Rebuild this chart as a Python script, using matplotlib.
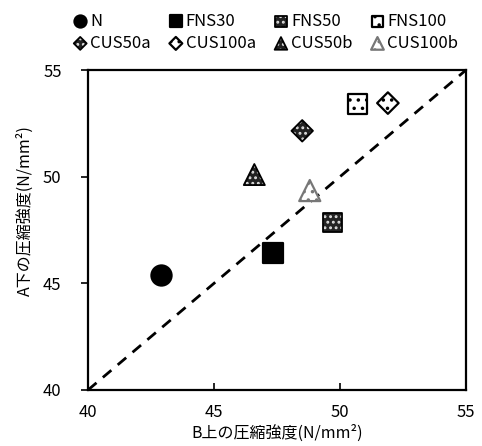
import numpy as np
import matplotlib
matplotlib.use("Agg")
import matplotlib.pyplot as plt

plt.rcParams['font.family'] = ['Noto Sans CJK JP', 'DejaVu Sans']
plt.rcParams['hatch.linewidth'] = 1.3

# data
names = ["N", "FNS30", "FNS50", "FNS100", "CUS50a", "CUS100a", "CUS50b", "CUS100b"]
b_strength = [42.9, 47.35, 49.7, 50.7, 48.5, 51.9, 46.6, 48.8]
a_strength = [45.4, 46.4, 47.85, 53.4, 52.15, 53.45, 50.1, 49.35]

# marker, face, edge (hatch colour), hatch, outline colour
styles = {
    "N":       ("o", "black", "black", None, None),
    "FNS30":   ("s", "black", "black", None, None),
    "FNS50":   ("s", "#222222", "#dddddd", "...", "black"),
    "FNS100":  ("s", "white", "black", "..", None),
    "CUS50a":  ("D", "#222222", "#dddddd", "...", "black"),
    "CUS100a": ("D", "white", "black", "..", None),
    "CUS50b":  ("^", "#222222", "#dddddd", "...", "black"),
    "CUS100b": ("^", "white", "#777777", "..", None),
}
sizes = {"o": 210, "s": 200, "D": 120, "^": 230}

fig = plt.figure(figsize=(4.82, 4.46), dpi=100)
ax = fig.add_axes([0.1826, 0.1256, 0.7842, 0.7174])

handles = {}
for name, x, y in zip(names, b_strength, a_strength):
    mk, fc, ec, hatch, outline = styles[name]
    s = sizes[mk]
    lw = 0 if outline else 1.6
    h = ax.scatter([x], [y], marker=mk, s=s, facecolor=fc, edgecolor=ec,
                   linewidth=lw, hatch=hatch, zorder=3)
    if outline:
        h2 = ax.scatter([x], [y], marker=mk, s=s, facecolor="none",
                        edgecolor=outline, linewidth=1.3, zorder=4)
        h = (h, h2)
    handles[name] = h

ax.plot([40, 55], [40, 55], color="black", linestyle=(0, (4, 3)), linewidth=2, zorder=2)

ax.set_xlim(40, 55)
ax.set_ylim(40, 55)
ax.set_xticks([40, 45, 50, 55])
ax.set_yticks([40, 45, 50, 55])
ax.tick_params(axis="x", direction="in", length=5, width=1.2, labelsize=12, pad=10)
ax.tick_params(axis="y", direction="out", length=5, width=1.2, labelsize=12, pad=14)
for sp in ax.spines.values():
    sp.set_linewidth(1.6)

ax.set_xlabel("B上の圧縮強度(N/mm²)", fontsize=11.5, va="center")
ax.xaxis.set_label_coords(0.5, -0.135)
ax.set_ylabel("A下の圧縮強度(N/mm²)", fontsize=11.5, va="center")
ax.yaxis.set_label_coords(-0.165, 0.56)

order = ["N", "CUS50a", "FNS30", "CUS100a", "FNS50", "CUS50b", "FNS100", "CUS100b"]
fig.legend([handles[n] for n in order], order, ncol=4, frameon=False,
           loc="upper left", bbox_to_anchor=(0.118, 1.005), fontsize=12,
           markerscale=0.6, handletextpad=0.1, columnspacing=1.0,
           handlelength=1.0, labelspacing=0.3)

fig.savefig("out.png", dpi=100)
